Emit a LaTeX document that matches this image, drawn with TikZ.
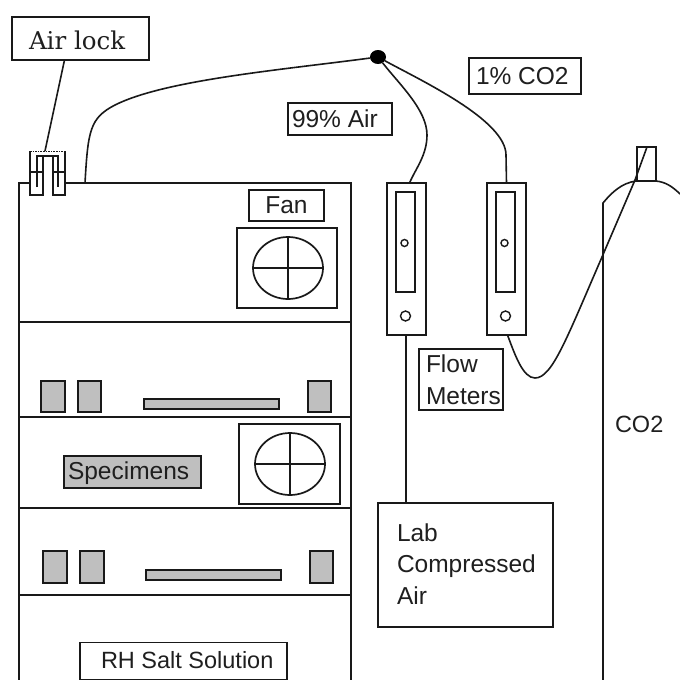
\documentclass[tikz,border=0pt]{standalone}
\usepackage{fontspec}
\setmainfont{Liberation Sans}
\newfontfamily\slabfont{DejaVu Serif}
\usetikzlibrary{shapes.geometric}
\tikzset{
  x=1pt,y=-1pt,
  every node/.style={inner sep=0pt,outer sep=0pt},
  wire/.style={line width=1.6pt,black!90},
  wbox/.style={draw=black!90,line width=1.6pt,fill=white,rectangle},
  gbox/.style={draw=black!90,line width=1.8pt,fill=black!25,rectangle},
  lbl/.style={font=\fontsize{24.5}{28}\selectfont,text=black!88},
  knob/.style={draw=black!90,line width=1.4pt,fill=white,circle},
  fanwheel/.style={draw=black!90,line width=1.7pt,ellipse,minimum width=70pt,minimum height=62pt}
}
\begin{document}
\begin{tikzpicture}
\useasboundingbox (0,0) rectangle (680,680);
\fill[white] (0,0) rectangle (680,680);
% cabinet
\coordinate (cabTL) at (19,183);
\coordinate (cabTR) at (351,183);
\coordinate (cabBL) at (19,680);
\coordinate (cabBR) at (351,680);
\draw[wire] (cabBL) -- (cabTL) -- (cabTR) -- (cabBR);
\foreach \yy in {322,417,508,595} \draw[wire] (19,\yy) -- (351,\yy);
% fans
\node[wbox,minimum width=100pt,minimum height=80pt] (fanA) at (287,268) {};
\node[fanwheel] (wheelA) at (288,268) {};
\draw[wire] (wheelA.north) -- (wheelA.south);
\draw[wire] (wheelA.west) -- (wheelA.east);
\node[wbox,minimum width=101pt,minimum height=80pt] (fanB) at (289.5,464) {};
\node[fanwheel] (wheelB) at (290,464) {};
\draw[wire] (wheelB.north) -- (wheelB.south);
\draw[wire] (wheelB.west) -- (wheelB.east);
\node[wbox,minimum width=75pt,minimum height=31pt,lbl] (fanL) at (286.5,205.5) {Fan};
% grey blocks
\foreach \nm/\cx/\cy/\w/\h in {a/53/396.5/24/31,b/89.5/396.5/23/31,c/319.5/396.5/23/31,d/211.5/404/135/10,
  e/55/567/24/32,f/92/567/24/32,g/321.5/567/23/32,h/213.5/575/135/10}
  \node[gbox,minimum width=\w pt,minimum height=\h pt] (block\nm) at (\cx,\cy) {};
\node[gbox,minimum width=137pt,minimum height=32pt] (spec) at (132.5,472) {};
\node[lbl,anchor=west] (specT) at (68,473) {Specimens};
\node[wbox,minimum width=207pt,minimum height=37pt] (rh) at (183.5,661) {};
\node[lbl,anchor=west,font=\fontsize{23.5}{28}\selectfont] (rhT) at (101,660) {RH Salt Solution};
% air lock label
\node[wbox,minimum width=137pt,minimum height=43pt] (alL) at (80.5,38.5) {};
\node[anchor=west,text=black!88,font=\slabfont\fontsize{24.5}{28}\selectfont] (alT) at (29,40) {Air lock};
% air lock device
\fill[white] (43,176) rectangle (53,190);
\node[wbox,minimum width=13pt,minimum height=23pt] (tubeL) at (36.5,183.5) {};
\node[wbox,minimum width=12pt,minimum height=23pt] (tubeR) at (59,183.5) {};
\coordinate (alTop) at (45,151);
\draw[wire,densely dotted,line width=1pt] (30,151) -- (65,151);
\draw[wire] (tubeL.north west) -- (30,151);
\draw[wire] (tubeL.north east) -- (43,155);
\draw[wire] (tubeR.north west) -- (53,155);
\draw[wire] (tubeR.north east) -- (65,151);
\draw[wire] (37,187) -- (37,156) -- (58,156) -- (58,187);
\draw[wire] (alL.south) ++(-16,0) -- (alTop);
% main air pipe
\coordinate (cabPort) at (85,183);
\node[fill=black,ellipse,minimum width=16pt,minimum height=14pt] (junc) at (378,57) {};
\draw[wire] (cabPort) .. controls (88,130) and (90,118) .. (115,105) .. controls (165,80) and (280,70) .. (junc);
% flow meters
\foreach \nm/\cx in {mA/406.5,mB/506.5}{
  \node[wbox,minimum width=39pt,minimum height=152pt] (\nm) at (\cx,259) {};
  \node[wbox,minimum width=19pt,minimum height=100pt] (\nm in) at (\cx-1,242) {};
  \node[knob,minimum size=7pt] (\nm k) at (\cx-2,243) {};
  \node[knob,minimum size=10pt] (\nm j) at (\cx-1,316) {};
}
\draw[wire] (junc) .. controls (400,85) and (427,110) .. (427,135) .. controls (427,155) and (416,168) .. ([xshift=3pt]mA.north);
\draw[wire] (junc) .. controls (420,80) and (506,120) .. (506,155) -- (mB.north);
% labels
\node[wbox,minimum width=104pt,minimum height=32pt,lbl] (airL) at (340,119) {};
\node[lbl,anchor=west] (airT) at (292,119) {99\% Air};
\node[wbox,minimum width=112pt,minimum height=36pt] (co2L) at (525,76) {};
\node[lbl,anchor=west] (co2T) at (476,76) {1\% CO2};
% lab air
\node[wbox,minimum width=175pt,minimum height=124pt] (lab) at (465.5,565) {};
\coordinate (labPort) at (406,503);
\draw[wire] (406,335) -- (labPort);
\node[lbl,anchor=west] (labA) at (397,533) {Lab};
\node[lbl,anchor=west] (labB) at (397,566) {Compressed};
\node[lbl,anchor=west] (labC) at (397,596) {Air};
\node[wbox,minimum width=84pt,minimum height=61pt] (fm) at (461,379.5) {};
\node[lbl,anchor=west] (fmA) at (426,364) {Flow};
\node[lbl,anchor=west] (fmB) at (426,396) {Meters};
% CO2 tank
\node[wbox,minimum width=19pt,minimum height=34pt] (valve) at (646.5,164) {};
\coordinate (tankBL) at (603,680);
\coordinate (tankEdge) at (680,194);
\draw[wire] (tankBL) -- (603,203) .. controls (612,192) and (622,183) .. (636,181) -- (valve.south east) .. controls (665,182) and (672,186) .. (tankEdge);
\node[lbl,anchor=west,font=\fontsize{23.5}{28}\selectfont] (co2) at (615,424) {CO2};
\draw[wire] ([xshift=1pt]mB.south) .. controls (515,355) and (523,378) .. (535,378) .. controls (552,378) and (566,340) .. (602,257) -- (635,180) -- ([xshift=10pt]valve.north west);
\end{tikzpicture}
\end{document}
